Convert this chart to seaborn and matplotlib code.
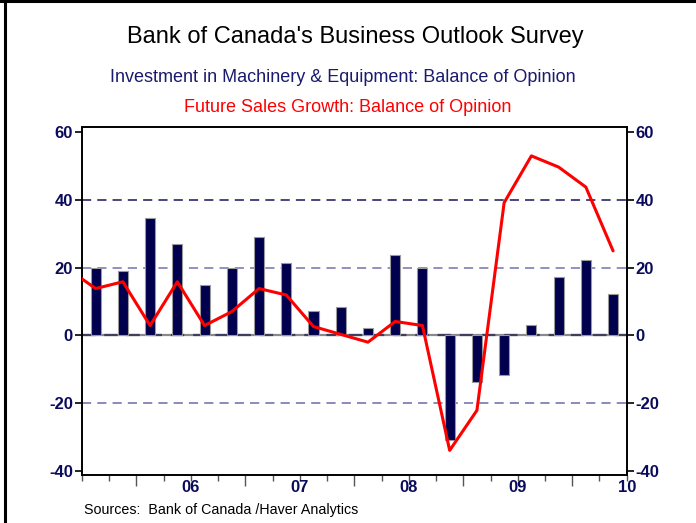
import matplotlib
matplotlib.use("Agg")
import matplotlib.pyplot as plt
import matplotlib.lines as mlines
import numpy as np
import pandas as pd
import seaborn as sns

# ---------------- data ----------------
quarters = ["2005Q3", "2005Q4",
            "2006Q1", "2006Q2", "2006Q3", "2006Q4",
            "2007Q1", "2007Q2", "2007Q3", "2007Q4",
            "2008Q1", "2008Q2", "2008Q3", "2008Q4",
            "2009Q1", "2009Q2", "2009Q3", "2009Q4",
            "2010Q1", "2010Q2"]
investment_me = [20.0, 19.1, 34.5, 26.9, 14.9, 20.0, 28.9, 21.2, 7.3, 8.5,
                 2.3, 23.8, 20.0, -30.8, -13.6, -11.6, 3.1, 17.3, 22.1, 12.2]

sales_quarters = ["2005Q2"] + quarters
future_sales = [19.5, 13.8, 15.8, 2.9, 15.8, 2.9, 7.0, 13.8, 11.9, 2.6, 0.3,
                -2.0, 4.1, 2.9, -33.9, -22.1, 39.1, 52.9, 49.6, 43.7, 24.9]

year_labels = ["06", "07", "08", "09", "10"]
year_label_pos = [2006.5, 2007.5, 2008.5, 2009.5, 2010.5]
y_ticks = [-40, -20, 0, 20, 40, 60]


def qpos(q):
    return int(q[:4]) + (int(q[-1]) - 1) / 4 + 0.125


bars_df = pd.DataFrame({"pos": [qpos(q) for q in quarters], "value": investment_me})
line_df = pd.DataFrame({"pos": [qpos(q) for q in sales_quarters], "value": future_sales})

# ---------------- style ----------------
sns.set_theme(style="white")
plt.rcParams["font.family"] = ["Liberation Sans", "DejaVu Sans"]

NAVY = "#0b0b5c"
fig = plt.figure(figsize=(6.96, 5.23), dpi=100)
ax = fig.add_axes([82 / 696, 1 - 474.5 / 523, (626.7 - 82) / 696, (474.5 - 126.7) / 523])

# grid lines
ax.axhline(40, color="#15155a", lw=1.1, ls=(0, (6, 4)), zorder=0.5)
ax.axhline(20, color="#7373b0", lw=1.1, ls=(0, (6, 4)), zorder=0.5)
ax.axhline(-20, color="#6a6aaa", lw=1.1, ls=(0, (6, 4)), zorder=0.5)
ax.axhline(0, color="#8a8a8a", lw=1.6, zorder=0.5)
ax.axhline(0, color="#3e3e5e", lw=1.6, ls=(0, (6, 4)), zorder=0.6)

sns.barplot(data=bars_df, x="pos", y="value", native_scale=True, orient="x",
            width=0.37, color="#00004e", saturation=1, edgecolor="#9a9a9a",
            linewidth=0.8, ax=ax, zorder=2)
sns.lineplot(data=line_df, x="pos", y="value", color="#ff0000", linewidth=2.2,
             ax=ax, zorder=3)

ax.set_xlim(2005.5, 2010.5)
ax.set_ylim(-41, 61.5)
ax.set_xlabel("")
ax.set_ylabel("")

for s in ax.spines.values():
    s.set_visible(True)
    s.set_color("black")
    s.set_linewidth(1.4)

# y axis both sides
ax.set_yticks(y_ticks)
ax.set_yticklabels([str(v) for v in y_ticks])
ax.tick_params(axis="y", which="major", left=True, right=True, labelleft=True,
               labelright=True, direction="out", length=5, width=1.2,
               color="black", pad=1.5, labelsize=12, labelcolor=NAVY)
for lab in ax.get_yticklabels():
    lab.set_fontweight("bold")

# x axis: long ticks at year boundaries, short at quarter boundaries
ax.set_xticks(np.arange(2006, 2011, 1.0))
ax.set_xticks([b for b in np.arange(2005.5, 2010.51, 0.25) if abs(b - round(b)) > 1e-6],
              minor=True)
ax.tick_params(axis="x", which="major", bottom=True, direction="out", length=8,
               width=1.0, color="#555555", labelbottom=False)
ax.tick_params(axis="x", which="minor", bottom=True, direction="out", length=4,
               width=1.0, color="#555555")
for p, lab in zip(year_label_pos, year_labels):
    ax.text(p, -0.037, lab, transform=ax.get_xaxis_transform(), ha="center",
            va="center", fontsize=12, fontweight="bold", color=NAVY, clip_on=False)

# titles
fig.text(0.510, 0.929, "Bank of Canada's Business Outlook Survey", ha="center",
         va="center", fontsize=17, color="black")
fig.text(0.492, 0.851, "Investment in Machinery & Equipment: Balance of Opinion",
         ha="center", va="center", fontsize=13, color="#1a1a6e")
fig.text(0.500, 0.795, "Future Sales Growth: Balance of Opinion", ha="center",
         va="center", fontsize=13, color="#ff0000")
fig.text(84 / 696, 1 - 510 / 523, "Sources:  Bank of Canada /Haver Analytics",
         ha="left", va="center", fontsize=10.3, color="black")

# outer frame lines (left and top)
fig.add_artist(mlines.Line2D([5 / 696, 5 / 696], [0, 1], color="black", lw=2.2,
                             transform=fig.transFigure))
fig.add_artist(mlines.Line2D([0, 1], [1 - 1 / 523, 1 - 1 / 523], color="black", lw=2.2,
                             transform=fig.transFigure))

fig.savefig("out.png", dpi=100)
